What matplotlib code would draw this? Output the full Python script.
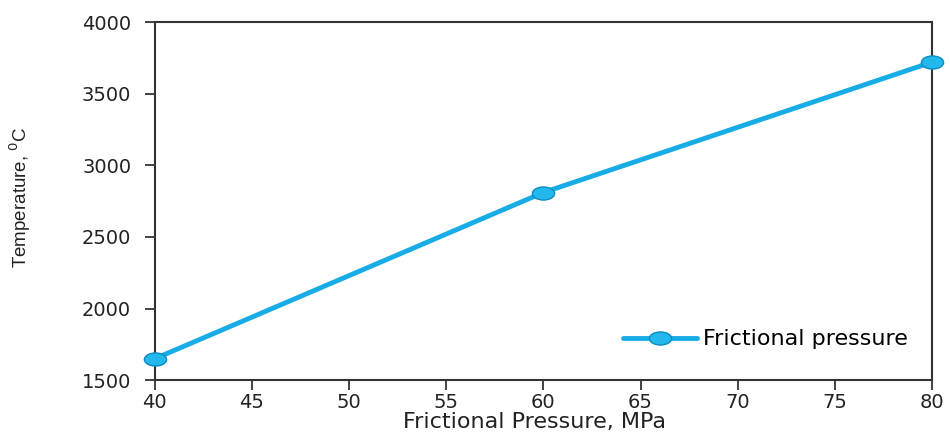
import numpy as np
import matplotlib
matplotlib.use("Agg")
import matplotlib.pyplot as plt
from matplotlib.path import Path
from matplotlib.transforms import Affine2D

plt.rcParams['font.family'] = ['DejaVu Sans']

# data
pressure = [40, 60, 80]
temperature = [1650, 2810, 3720]
series_name = 'Frictional pressure'
x_ticks = [40, 45, 50, 55, 60, 65, 70, 75, 80]
y_ticks = [1500, 2000, 2500, 3000, 3500, 4000]

# flattened ellipse marker
ellipse = Path.unit_circle().transformed(Affine2D().scale(1.7, 1.0))

fig = plt.figure(figsize=(9.5, 4.32), dpi=100)
ax = fig.add_axes([0.163, 0.120, 0.818, 0.829])

ax.plot(pressure, temperature, color='#18ace6', lw=3.5, marker=ellipse,
        markersize=16, markerfacecolor='#22b8ee', markeredgecolor='#0c8cbf',
        markeredgewidth=1.0, label=series_name, solid_capstyle='round',
        clip_on=False, zorder=3)

ax.set_xlim(40, 80)
ax.set_ylim(1500, 4000)
ax.set_xticks(x_ticks)
ax.set_yticks(y_ticks)
ax.tick_params(direction='out', length=7, width=1.2, labelsize=14,
               colors='#222222')
ax.tick_params(axis='x', pad=2)
ax.tick_params(axis='y', pad=10)
for s in ax.spines.values():
    s.set_linewidth(1.5)
    s.set_color('#333333')

ax.set_xlabel('Frictional Pressure, MPa', fontsize=16, color='#222222')
ax.xaxis.set_label_coords(0.488, -0.09)
ax.set_ylabel('Temperature, $^{0}$C', fontsize=13.5, color='#222222',
              family='Liberation Sans')
ax.yaxis.set_label_coords(-0.157, 0.51)

leg = ax.legend(loc='lower right', frameon=False, fontsize=16,
                bbox_to_anchor=(0.995, 0.03), handlelength=3.3,
                handletextpad=0.3)

fig.savefig('out.png', dpi=100)
